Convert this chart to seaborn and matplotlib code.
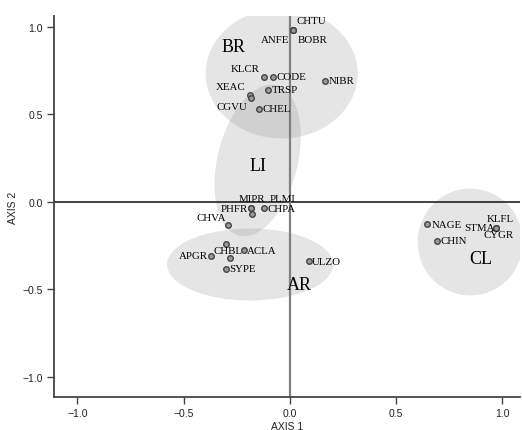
import matplotlib
matplotlib.use("Agg")
import matplotlib.pyplot as plt
import seaborn as sns
import pandas as pd
from matplotlib.patches import Ellipse
from matplotlib.transforms import Affine2D
from matplotlib.ticker import FuncFormatter

sns.set_style("white")
plt.rcParams['font.family'] = ['Liberation Sans', 'DejaVu Sans']

# --- data ---
species = ["CHTU", "ANFE", "BOBR", "KLCR", "CODE", "NIBR", "TRSP", "XEAC", "CGVU", "CHEL",
           "MIPR", "PHFR", "PLMI", "CHPA", "CHVA", "CHBL", "", "ACLA", "SYPE", "APGR",
           "ULZO", "NAGE", "CHIN", "KLFL", "STMA", "CYGR"]
axis1 = [0.014, 0.014, 0.014, -0.124, -0.082, 0.163, -0.104, -0.189, -0.184, -0.147,
         -0.185, -0.185, -0.177, -0.122, -0.291, -0.299, -0.282, -0.215, -0.299, -0.373,
         0.091, 0.647, 0.690, 0.969, 0.969, 0.969]
axis2 = [0.983, 0.983, 0.983, 0.714, 0.714, 0.691, 0.640, 0.607, 0.590, 0.530,
         -0.038, -0.038, -0.067, -0.034, -0.133, -0.242, -0.318, -0.276, -0.381, -0.307,
         -0.339, -0.128, -0.223, -0.149, -0.149, -0.149]

groups = ["BR", "LI", "AR", "CL"]
group_x = [-0.264, -0.152, 0.043, 0.897]
group_y = [0.884, 0.207, -0.472, -0.323]

# label offsets in pixels (dx, dy, ha)
offsets = [(4, 9, "left"), (-4, -10, "right"), (5, -10, "left"), (-4, 8, "right"),
           (4, 0, "left"), (4, 0, "left"), (4, 0, "left"), (-4, 9, "right"),
           (-4, -8, "right"), (4, 0, "left"), (15, 10, "right"), (-3, 0, "right"),
           (17, 15, "left"), (3, -1, "left"), (-2, 8, "right"), (16, -6, "right"),
           (0, 0, "left"), (3, 0, "left"), (3, 0, "left"), (-3, 0, "right"),
           (3, 0, "left"), (4, 0, "left"), (4, 0, "left"), (-9, 9, "left"),
           (-1, 0, "right"), (-12, -7, "left")]

df = pd.DataFrame({"species": species, "AXIS 1": axis1, "AXIS 2": axis2})

SX, SY = 212.3, 175.2  # px per unit

fig = plt.figure(figsize=(5.22, 4.31), dpi=100)
ax = fig.add_axes([54/522, 1-398/431, (520-54)/522, (398-17)/431])
ax.set_xlim(-1.1106, 1.0829)
ax.set_ylim(-1.1142, 1.0605)

# ellipses defined in pixel-like units
ell_specs = [  # cx_px, cy_px, w_px, h_px, angle
    (281 - 289.3, 203.3 - 75, 152, 130, 0),
    (257 - 289.3, 203.3 - 162, 80, 155, -14),
    (249.5 - 289.3, 203.3 - 266, 166, 72, 0),
    (469.5 - 289.3, 203.3 - 243.5, 105, 107, 0),
]
tr = Affine2D().scale(1/SX, 1/SY) + ax.transData
for cx, cy, w, h, a in ell_specs:
    e = Ellipse((cx, cy), w, h, angle=a, facecolor="#808080", alpha=0.2,
                edgecolor="none", transform=tr, zorder=1)
    ax.add_patch(e)

ax.axhline(0, color="#222222", lw=1.2, zorder=2)
ax.axvline(0, color="#808080", lw=1.6, zorder=2)

sns.scatterplot(data=df, x="AXIS 1", y="AXIS 2", ax=ax, s=16, color="#9a9a9a",
                edgecolor="#444444", linewidth=1.0, zorder=3)

for name, x, y, (dx, dy, ha) in zip(species, axis1, axis2, offsets):
    if not name:
        continue
    ax.annotate(name, (x, y), xytext=(dx, dy), textcoords="offset pixels",
                ha=ha, va="center", fontsize=7.8, family="Liberation Serif",
                color="#000000", zorder=4)

for g, x, y in zip(groups, group_x, group_y):
    ax.text(x, y, g, ha="center", va="center", fontsize=13,
            family="Liberation Serif", color="#000000", zorder=4)

fmt = FuncFormatter(lambda v, p: f"{v:.1f}".replace("-", "\u2212"))
ax.set_xticks([-1.0, -0.5, 0.0, 0.5, 1.0])
ax.set_yticks([-1.0, -0.5, 0.0, 0.5, 1.0])
ax.xaxis.set_major_formatter(fmt)
ax.yaxis.set_major_formatter(fmt)
ax.tick_params(axis="both", direction="out", length=5, width=1, color="#444444",
               labelsize=7.5, labelcolor="#222222", bottom=True, left=True, pad=3)
for s in ["top", "right"]:
    ax.spines[s].set_visible(False)
for s in ["left", "bottom"]:
    ax.spines[s].set_color("#444444")
    ax.spines[s].set_linewidth(1.3)
ax.set_xlabel("AXIS 1", fontsize=7.5, color="#222222", labelpad=2)
ax.set_ylabel("AXIS 2", fontsize=7.5, color="#222222", labelpad=3)

fig.savefig("out.png", dpi=100)
